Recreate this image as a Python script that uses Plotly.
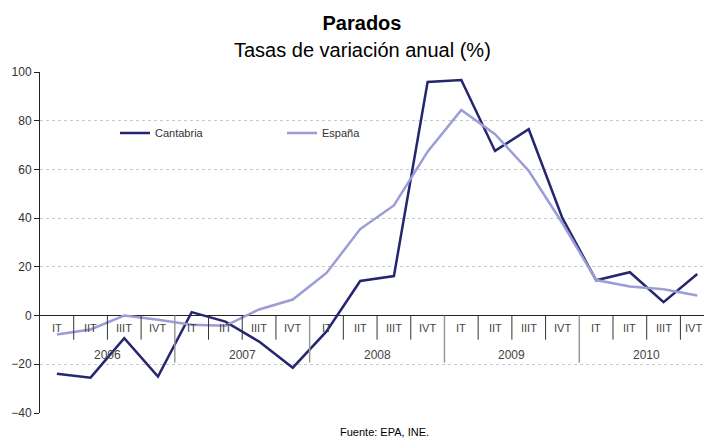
import plotly.graph_objects as go

quarters = ["IT", "IIT", "IIIT", "IVT"] * 5
years = ["2006", "2007", "2008", "2009", "2010"]
cantabria = [-23.9, -25.5, -9.3, -25.0, 1.4, -2.5, -10.7, -21.4, -6.5, 14.2,
             16.2, 95.9, 96.7, 67.6, 76.5, 40.0, 14.5, 17.8, 5.5, 17.1]
espana = [-7.8, -5.7, 0.0, -1.7, -3.8, -4.2, 2.5, 6.6, 17.5, 35.5,
          45.2, 67.3, 84.4, 74.5, 59.4, 37.9, 14.6, 11.9, 10.8, 8.2]

x = list(range(len(quarters)))
FONT = "Liberation Sans, Arial, sans-serif"

fig = go.Figure()
fig.add_trace(go.Scatter(x=x, y=cantabria, mode="lines", name="Cantabria",
                         line=dict(color="#262670", width=2.5)))
fig.add_trace(go.Scatter(x=x, y=espana, mode="lines", name="España",
                         line=dict(color="#9c9cd6", width=2.5)))

annotations = []
for i, q in enumerate(quarters):
    annotations.append(dict(x=i, y=-5, xref="x", yref="y", text=q, showarrow=False,
                            yanchor="middle", xshift=(-4 if i == len(quarters) - 1 else 0),
                            font=dict(size=11, color="#444444", family=FONT)))
for k, yr in enumerate(years):
    annotations.append(dict(x=4 * k + 1.5, y=-16, xref="x", yref="y", text=yr,
                            showarrow=False, yanchor="middle",
                            font=dict(size=12, color="#444444", family=FONT)))
annotations.append(dict(x=(362 - 40) / 664, y=(413 - 50) / 341, xref="paper", yref="paper",
                        xanchor="center", yanchor="middle",
                        text="Tasas de variación anual (%)", showarrow=False,
                        font=dict(size=20, color="#000000", family=FONT)))
annotations.append(dict(x=(384 - 40) / 664, y=(413 - 432) / 341, xref="paper", yref="paper",
                        xanchor="center", yanchor="middle",
                        text="Fuente: EPA, INE.", showarrow=False,
                        font=dict(size=11, color="#000000", family=FONT)))

shapes = []
for i in range(len(quarters) - 1):
    if (i + 1) % 4 == 0:
        shapes.append(dict(type="line", xref="x", yref="y", x0=i + 0.5, x1=i + 0.5,
                           y0=0, y1=-19.3, line=dict(color="#999999", width=1.5)))
    else:
        shapes.append(dict(type="line", xref="x", yref="y", x0=i + 0.5, x1=i + 0.5,
                           y0=0, y1=-9.9, line=dict(color="#333333", width=1)))

fig.update_layout(
    width=704, height=439,
    margin=dict(l=40, r=0, t=72, b=26),
    paper_bgcolor="white", plot_bgcolor="white",
    font=dict(family=FONT, size=11, color="#333333"),
    title=dict(text="<b>Parados</b>", x=362 / 704, xanchor="center",
               y=1 - 23 / 439, yanchor="middle", yref="container",
               font=dict(size=20, color="#000000", family=FONT)),
    showlegend=True,
    legend=dict(orientation="h", x=(115 - 40) / 664, xanchor="left",
                y=(413 - 133) / 341, yanchor="middle",
                bgcolor="rgba(0,0,0,0)", font=dict(size=11, color="#333333"),
                entrywidth=122, entrywidthmode="pixels", itemwidth=30),
    xaxis=dict(range=[-0.5, 19.2], visible=False, fixedrange=True),
    yaxis=dict(range=[-40, 100], dtick=20, showgrid=True, gridcolor="#c8c8c8",
               griddash="dot", gridwidth=1, zeroline=True, zerolinecolor="#222222",
               zerolinewidth=1, showline=True, linecolor="#222222", linewidth=1,
               ticks="outside", ticklen=5, tickcolor="#222222",
               tickfont=dict(size=12, color="#333333")),
    annotations=annotations,
    shapes=shapes,
)

fig.write_html("out.html", config={"displayModeBar": False},
               post_script="document.body.style.margin='0px';")
